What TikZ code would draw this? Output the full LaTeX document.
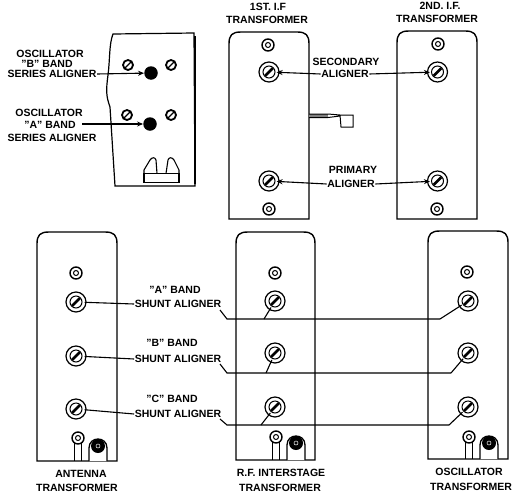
\documentclass[tikz,border=0pt]{standalone}
\usepackage{fontspec}
\setmainfont{Liberation Sans}
\usetikzlibrary{arrows.meta}
\tikzset{
  x=1pt,y=-1pt,
  panel/.style={draw=black,line width=1.4pt},
  lbl/.style={inner sep=0.5pt,font=\fontsize{10.5}{11}\selectfont\bfseries},
  lead/.style={draw=black,line width=1.1pt},
  leadarrow/.style={lead,-{Stealth[length=6pt,width=5pt]},shorten >=-3pt},
  ring/.style={circle,draw=black,line width=1.2pt,fill=white,minimum size=#1,inner sep=0pt},
  blackknob/.style={circle,fill=black,minimum size=#1,inner sep=0pt},
}
\newcommand{\alignerat}[3]{%
  \node[ring=20pt] (#1) at (#2,#3) {};
  \node[ring=12pt,line width=1pt] (#1i) at (#2,#3) {};
  \draw[line width=2.6pt] ([shift={(-3.8,3.8)}]#1.center) -- ([shift={(3.8,-3.8)}]#1.center);
}
\newcommand{\nutat}[3]{%
  \node[ring=12pt,line width=1.4pt] (#1) at (#2,#3) {};
  \node[ring=5pt,line width=1pt] (#1i) at (#2,#3) {};
}
\newcommand{\screwat}[3]{%
  \node[ring=10pt,line width=1.8pt] (#1) at (#2,#3) {};
  \draw[line width=1.2pt] ([shift={(-3.2,3.2)}]#1.center) -- ([shift={(3.2,-3.2)}]#1.center);
}
\newcommand{\panelat}[4]{% left right top bottom
  \draw[panel] (#1,#4) -- (#1,#3+12) .. controls (#1,#3+3) and (#1+3,#3) .. (#1+12,#3)
     -- (#2-12,#3) .. controls (#2-3,#3) and (#2,#3+3) .. (#2,#3+12) -- (#2,#4) -- cycle;
}
\newcommand{\terminals}[6]{% name nutx nuty knobx knoby bottom
  \draw[line width=1.1pt] (#2-3.5,#3) -- (#2-3.5,#6) (#2+3.5,#3) -- (#2+3.5,#6);
  \nutat{#1n}{#2}{#3}
  \draw[line width=1.3pt,fill=white] (#4-9,#6) -- (#4-9,#5+2) .. controls (#4-9,#5-10) and (#4+9,#5-10) .. (#4+9,#5+2) -- (#4+9,#6);
  \node[blackknob=14pt] (#1k) at (#4,#5) {};
  \node[circle,draw=white,line width=0.5pt,minimum size=4pt,inner sep=0pt] (#1w) at (#4,#5) {};
}
\begin{document}
\begin{tikzpicture}
\useasboundingbox (0,0) rectangle (526,498);
% oscillator chassis
\draw[panel,line width=1.2pt] (113,34) .. controls (109,44) and (110,60) .. (108,75)
  .. controls (106,90) and (106,96) .. (110,107) -- (115,186) -- (195,186) -- (194,33) -- cycle;
\draw[line width=2.4pt] (195,36) -- (195,184);
\screwat{sa}{128}{65}\screwat{sb}{171}{65}\screwat{sc}{127}{115}\screwat{sd}{171}{115}
\node[blackknob=13.5pt] (kb) at (151,73) {};
\node[blackknob=13.5pt] (ka) at (150,124) {};
\draw[line width=1.1pt] (144,173.5) -- (144,170) -- (150,160) .. controls (152,157) and (155,157) .. (156,160) -- (157,173.5);
\draw[line width=1.1pt] (166,173.5) -- (168,160) .. controls (169,157) and (172,157) .. (174,160) -- (179,170) -- (179,173.5);
\draw[line width=1.1pt] (144,173.5) rectangle (179,182.5);
% i.f. panels
\panelat{229}{309}{32}{219}
\panelat{397}{477}{31}{219}
\nutat{n1}{268}{45}\nutat{n2}{269}{209}\nutat{n3}{438}{44}\nutat{n4}{437}{209}
\alignerat{s1}{269}{72}\alignerat{p1}{269}{181}\alignerat{s2}{437.5}{72}\alignerat{p2}{437.5}{181}
% tab
\fill[gray] (309,114) rectangle (328,117.5);
\draw[line width=1pt] (309,114) -- (328,114) -- (340,115) -- (353,115) -- (353,127) -- (341,127) -- (340,115)
  (309,117.5) -- (328,117.5) -- (340,116);
% lower panels
\panelat{37}{117}{232}{461}
\panelat{236}{315}{232}{460}
\panelat{428}{508}{231}{459}
\nutat{na}{76}{273}\nutat{nr}{275}{273}\nutat{no}{467}{272}
\alignerat{a1}{76}{302}\alignerat{a2}{76}{356}\alignerat{a3}{76}{409}
\alignerat{r1}{275}{301}\alignerat{r2}{275}{353}\alignerat{r3}{275}{407}
\alignerat{o1}{468}{301}\alignerat{o2}{468}{353}\alignerat{o3}{468}{407}
\terminals{ta}{78}{438}{98}{446}{461}
\terminals{tr}{276}{437}{296}{443}{460}
\terminals{to}{469}{437}{489}{443}{459}
% labels
\node[lbl] (l1) at (50,54) {OSCILLATOR};
\node[lbl] (l2) at (47,64) {"B" BAND};
\node[lbl] (l3) at (52,74) {SERIES ALIGNER};
\node[lbl] (l4) at (49,113) {OSCILLATOR};
\node[lbl] (l5) at (50,125) {"A" BAND};
\node[lbl] (l6) at (52,138) {SERIES ALIGNER};
\node[lbl] (t1) at (268,7) {1ST. I.F};
\node[lbl] (t2) at (267,20) {TRANSFORMER};
\node[lbl] (t3) at (440,6) {2ND. I.F.};
\node[lbl] (t4) at (437,19) {TRANSFORMER};
\node[lbl] (c1) at (346,62) {SECONDARY};
\node[lbl] (c2) at (345,74) {ALIGNER};
\node[lbl] (c3) at (353,170) {PRIMARY};
\node[lbl] (c4) at (351,184) {ALIGNER};
\node[lbl] (b1) at (175,290) {"A" BAND};
\node[lbl] (b2) at (178,304) {SHUNT ALIGNER};
\node[lbl] (b3) at (172,343) {"B" BAND};
\node[lbl] (b4) at (178,359) {SHUNT ALIGNER};
\node[lbl] (b5) at (172,399) {"C" BAND};
\node[lbl] (b6) at (178,414) {SHUNT ALIGNER};
\node[lbl] (f1) at (81,474) {ANTENNA};
\node[lbl] (f2) at (77,488) {TRANSFORMER};
\node[lbl] (f3) at (281,473) {R.F. INTERSTAGE};
\node[lbl] (f4) at (280,488) {TRANSFORMER};
\node[lbl] (f5) at (469,472) {OSCILLATOR};
\node[lbl] (f6) at (471,487) {TRANSFORMER};
% connectors
\coordinate (la) at (82,124);
\draw[leadarrow,shorten >=0pt] (l3.east) -- (kb);
\draw[leadarrow,shorten >=0pt] (la) -- (ka);
\draw[leadarrow] (c2.west) -- (s1);
\draw[leadarrow] (c2.east) -- (s2);
\draw[leadarrow] (c4.west) -- (p1);
\draw[leadarrow] (c4.east) -- (p2);
\draw[lead,shorten <=-2pt] (a1) -- (b2.west);
\draw[lead,shorten <=-2pt] (a2) -- (b4.west);
\draw[lead,shorten <=-2pt] (a3) -- (b6.west);
\foreach \lab/\r/\o/\ya/\yb/\xo/\xr in {b2/r1/o1/310/319/440/264, b4/r2/o2/364/373/451/266, b6/r3/o3/419/425/449/261}{
  \coordinate (j\r) at (\xr,\yb);
  \coordinate (j\o) at (\xo,\yb);
  \draw[lead] (220,\ya) -- (227,\yb) -- (j\r) -- (j\o);
  \draw[lead,shorten >=-3pt] (j\o) -- (\o);
  \draw[lead,shorten >=-3pt] (j\r) -- (\r);
}
\end{tikzpicture}
\end{document}
